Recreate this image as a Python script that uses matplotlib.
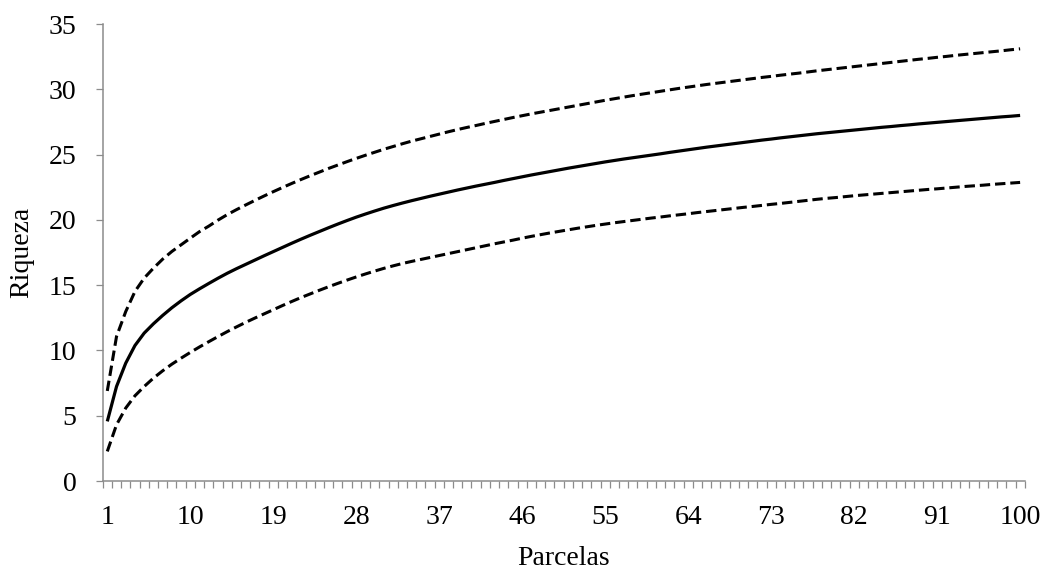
import numpy as np
import matplotlib
matplotlib.use("Agg")
import matplotlib.pyplot as plt
from matplotlib.ticker import FixedLocator

# ---- data ----
parcelas = list(range(1, 101))

riqueza_media = [
    4.57, 7.24, 9.03, 10.38, 11.33, 12.04, 12.68, 13.27, 13.80, 14.29,
    14.72, 15.13, 15.53, 15.91, 16.26, 16.59, 16.92, 17.25, 17.57, 17.89,
    18.21, 18.52, 18.82, 19.11, 19.40, 19.68, 19.95, 20.21, 20.45, 20.68,
    20.90, 21.10, 21.29, 21.47, 21.64, 21.81, 21.97, 22.13, 22.29, 22.44,
    22.59, 22.73, 22.87, 23.02, 23.16, 23.30, 23.44, 23.57, 23.70, 23.83,
    23.96, 24.08, 24.20, 24.32, 24.44, 24.55, 24.66, 24.76, 24.86, 24.96,
    25.06, 25.17, 25.27, 25.37, 25.47, 25.57, 25.66, 25.75, 25.84, 25.93,
    26.02, 26.11, 26.19, 26.28, 26.36, 26.44, 26.52, 26.60, 26.67, 26.74,
    26.81, 26.88, 26.95, 27.02, 27.09, 27.15, 27.22, 27.28, 27.35, 27.41,
    27.47, 27.53, 27.59, 27.65, 27.71, 27.77, 27.83, 27.89, 27.94, 28.00,
]

riqueza_superior = [
    6.90, 11.07, 12.98, 14.52, 15.54, 16.30, 16.99, 17.58, 18.09, 18.60,
    19.10, 19.52, 19.98, 20.40, 20.78, 21.14, 21.49, 21.83, 22.16, 22.48,
    22.79, 23.09, 23.38, 23.66, 23.94, 24.20, 24.46, 24.71, 24.95, 25.18,
    25.41, 25.62, 25.83, 26.03, 26.21, 26.39, 26.57, 26.75, 26.92, 27.08,
    27.23, 27.39, 27.54, 27.69, 27.84, 27.98, 28.12, 28.25, 28.38, 28.51,
    28.64, 28.77, 28.90, 29.03, 29.16, 29.28, 29.40, 29.52, 29.63, 29.74,
    29.85, 29.96, 30.07, 30.17, 30.27, 30.37, 30.46, 30.55, 30.64, 30.73,
    30.82, 30.91, 30.99, 31.08, 31.16, 31.24, 31.33, 31.42, 31.50, 31.58,
    31.66, 31.74, 31.82, 31.90, 31.98, 32.06, 32.14, 32.22, 32.30, 32.37,
    32.45, 32.52, 32.60, 32.67, 32.74, 32.81, 32.88, 32.95, 33.03, 33.10,
]

riqueza_inferior = [
    2.27, 4.31, 5.59, 6.53, 7.24, 7.88, 8.44, 8.95, 9.41, 9.85,
    10.27, 10.67, 11.06, 11.44, 11.80, 12.15, 12.48, 12.80, 13.12, 13.44,
    13.75, 14.05, 14.33, 14.61, 14.88, 15.14, 15.39, 15.63, 15.86, 16.08,
    16.29, 16.48, 16.66, 16.82, 16.97, 17.12, 17.27, 17.42, 17.57, 17.72,
    17.87, 18.02, 18.17, 18.31, 18.45, 18.60, 18.74, 18.87, 19.00, 19.12,
    19.24, 19.36, 19.47, 19.58, 19.68, 19.78, 19.87, 19.96, 20.05, 20.14,
    20.22, 20.31, 20.39, 20.47, 20.56, 20.64, 20.72, 20.80, 20.88, 20.96,
    21.03, 21.11, 21.19, 21.26, 21.34, 21.42, 21.50, 21.58, 21.65, 21.71,
    21.78, 21.85, 21.91, 21.97, 22.03, 22.09, 22.15, 22.21, 22.27, 22.33,
    22.38, 22.44, 22.50, 22.56, 22.61, 22.66, 22.72, 22.77, 22.82, 22.87,
]

x_tick_labels = [1, 10, 19, 28, 37, 46, 55, 64, 73, 82, 91, 100]
y_ticks = [0, 5, 10, 15, 20, 25, 30, 35]

# ---- style ----
plt.rcParams['font.family'] = ['Liberation Serif', 'DejaVu Serif']
axis_gray = '#8c8c8c'

fig = plt.figure(figsize=(10.51, 5.72), dpi=100)
ax = fig.add_axes([0.0977, 0.159, 0.8773, 0.799])

dash = (0, (3.4, 1.6))
ax.plot(parcelas, riqueza_superior, color='black', lw=2.2, linestyle=dash,
        dash_capstyle='butt')
ax.plot(parcelas, riqueza_media, color='black', lw=2.3, solid_capstyle='butt')
ax.plot(parcelas, riqueza_inferior, color='black', lw=2.2, linestyle=dash,
        dash_capstyle='butt')

ax.set_xlim(0.5, 100.5)
ax.set_ylim(0, 35)

ax.xaxis.set_major_locator(FixedLocator(x_tick_labels))
ax.set_xticklabels([str(v) for v in x_tick_labels])
ax.xaxis.set_minor_locator(FixedLocator(np.arange(0.5, 101, 1.0)))
ax.set_yticks(y_ticks)
ax.set_yticklabels([str(v) for v in y_ticks])

ax.tick_params(axis='x', which='major', length=0, pad=17, labelsize=20,
               labelcolor='black')
ax.tick_params(axis='x', which='minor', length=5, width=0.9, color=axis_gray,
               direction='out')
ax.tick_params(axis='y', which='major', length=5, width=0.9, color=axis_gray,
               direction='out', pad=14, labelsize=20, labelcolor='black')

for side in ('top', 'right'):
    ax.spines[side].set_visible(False)
for side in ('left', 'bottom'):
    ax.spines[side].set_color(axis_gray)
    ax.spines[side].set_linewidth(1.1)

ax.set_xlabel('Parcelas', fontsize=20, labelpad=12)
ax.set_ylabel('Riqueza', fontsize=20, labelpad=10)

fig.savefig('out.png', dpi=100, facecolor='white')
